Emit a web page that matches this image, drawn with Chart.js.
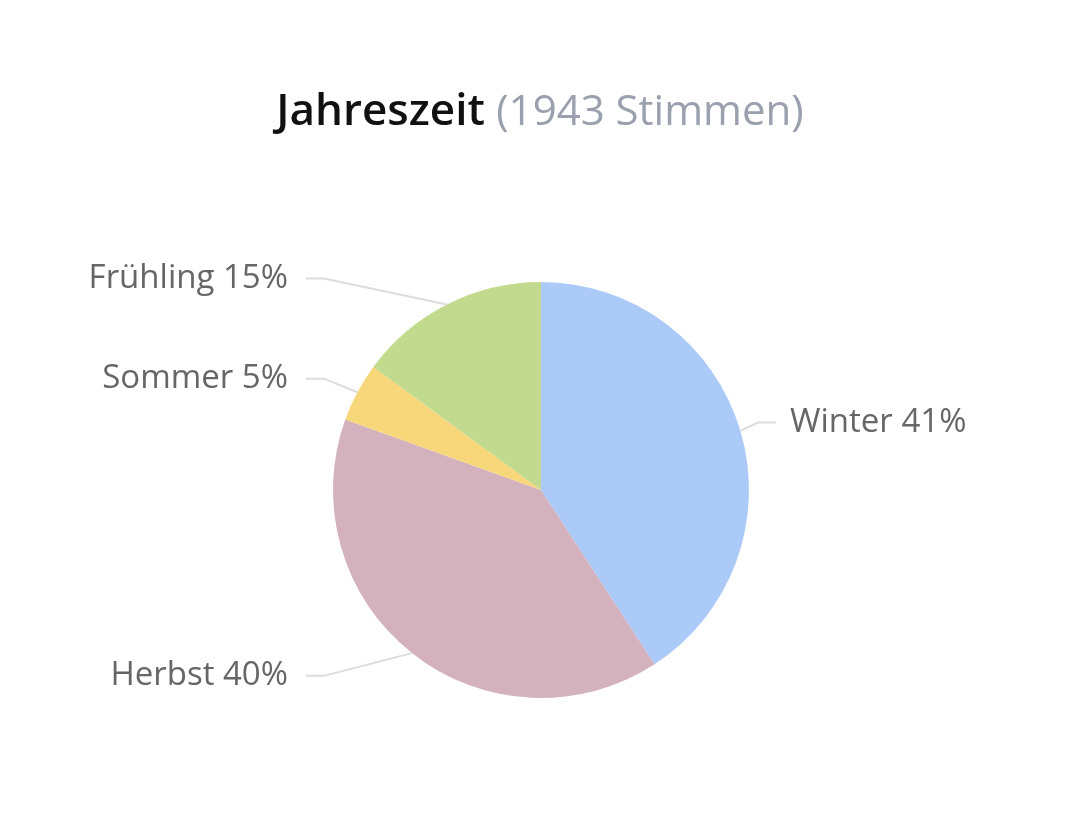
<!DOCTYPE html>
<html>
<head>
<meta charset="utf-8">
<title>Jahreszeit</title>
<script src="https://cdn.jsdelivr.net/npm/chart.js@4/dist/chart.umd.min.js"></script>
<style>
    body { margin: 0; background: #fff; }
    #wrap { position: relative; width: 1080px; height: 830px; }
    #title {
        position: absolute; left: 0; top: 78px; width: 1080px;
        text-align: center; font-family: "Open Sans", sans-serif;
        font-size: 44px; font-weight: 600; color: #111; white-space: nowrap;
    }
    #title span { color: #9aa0ad; font-size: 42px; font-weight: 400; }
</style>
</head>
<body>
<div id="wrap">
    <canvas id="pieChart" width="1080" height="830"></canvas>
    <div id="title">Jahreszeit <span>(1943 Stimmen)</span></div>
</div>
<script>
// Data
const categories = ["Winter", "Herbst", "Sommer", "Frühling"];
const votes = [793, 771, 89, 290];
const colors = ["#abcaf7", "#d3b1bd", "#f8d77b", "#c1da8d"];
const totalVotes = votes.reduce((a, b) => a + b, 0);

// Labels with leader lines
const outsideLabels = {
    id: "outsideLabels",
    afterDatasetsDraw(chart) {
        const ctx = chart.ctx;
        const meta = chart.getDatasetMeta(0);
        ctx.save();
        ctx.font = "33px 'Open Sans', sans-serif";
        ctx.textBaseline = "middle";
        meta.data.forEach((arc, i) => {
            const mid = (arc.startAngle + arc.endAngle) / 2;
            const r = arc.outerRadius;
            const px = arc.x + r * Math.cos(mid);
            const py = arc.y + r * Math.sin(mid);
            const ly = arc.y + (r + 29) * Math.sin(mid);
            const right = Math.cos(mid) >= 0;
            const dir = right ? 1 : -1;
            const elbowX = arc.x + dir * (r + 9);
            const endX = arc.x + dir * (r + 27);

            ctx.strokeStyle = "#dcdcdc";
            ctx.lineWidth = 2;
            ctx.beginPath();
            ctx.moveTo(px, py);
            ctx.lineTo(elbowX, ly);
            ctx.lineTo(endX, ly);
            ctx.stroke();

            const pct = Math.round(votes[i] / totalVotes * 100);
            ctx.fillStyle = "#666";
            ctx.textAlign = right ? "left" : "right";
            ctx.fillText(`${categories[i]} ${pct}%`, arc.x + dir * (r + (right ? 41 : 45)), ly);
        });
        ctx.restore();
    }
};

const ctx = document.getElementById("pieChart").getContext("2d");
new Chart(ctx, {
    type: "pie",
    data: {
        labels: categories,
        datasets: [{
            data: votes,
            backgroundColor: colors,
            borderWidth: 0
        }]
    },
    options: {
        responsive: false,
        animation: false,
        layout: { padding: { top: 282, bottom: 132, left: 333, right: 331 } },
        plugins: {
            legend: { display: false },
            tooltip: { enabled: false }
        }
    },
    plugins: [outsideLabels]
});
</script>
</body>
</html>
